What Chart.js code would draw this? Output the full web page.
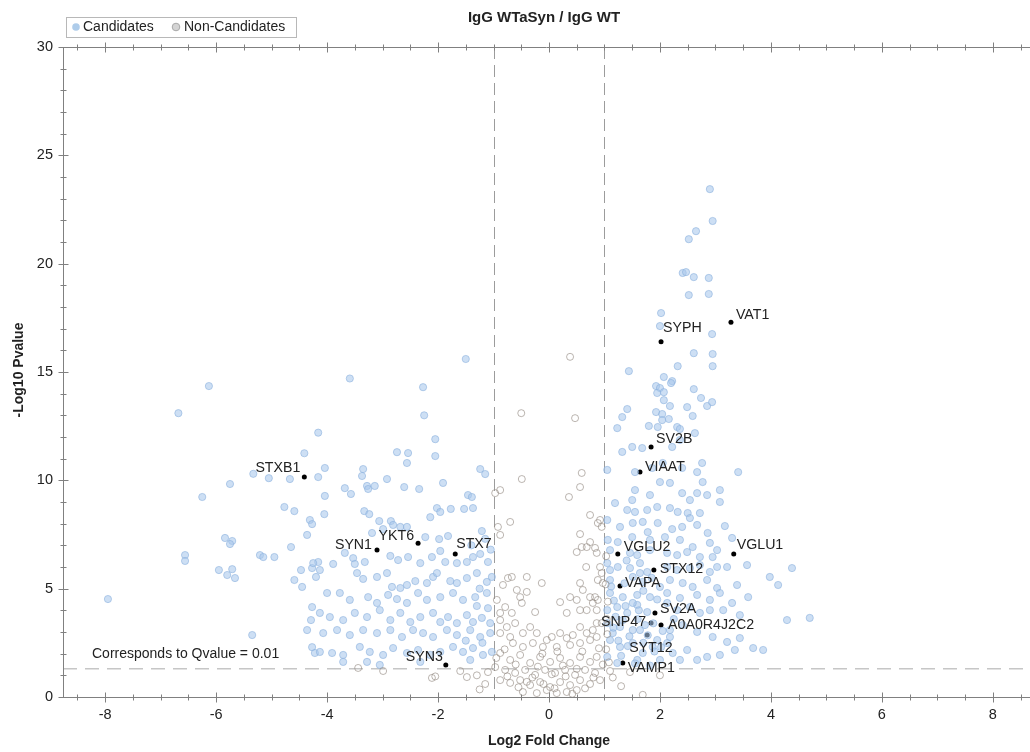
<!DOCTYPE html>
<html>
<head>
<meta charset="utf-8">
<script src="https://cdn.jsdelivr.net/npm/chart.js@4/dist/chart.umd.min.js"></script>
<style>
  html, body { margin: 0; background: #fff; }
  canvas { display: block; }
</style>
</head>
<body>
<canvas id="volcano" width="1030" height="752"></canvas>
<script>
const chartTitle = 'IgG WTaSyn / IgG WT';
const xTitle = 'Log2 Fold Change';
const yTitle = '-Log10 Pvalue';
const qLabel = 'Corresponds to Qvalue = 0.01';
const xTicks = [-8, -6, -4, -2, 0, 2, 4, 6, 8];
const yTicks = [0, 5, 10, 15, 20, 25, 30];
const foldCut = [-1, 1];
const qCut = 1.3;

// [log2 fold change, -log10 p]
const candidatesLeft = [
  [-6.13,14.35],[-6.68,13.1],[-4.16,12.2],[-4.41,11.25],[-5.33,10.3],[-5.05,10.1],[-4.67,10.06],[-4.16,10.15],
  [-5.75,9.83],[-6.25,9.23],[-4.77,8.77],[-4.59,8.58],[-4.31,8.17],[-4.27,7.98],[-4.36,7.48],[-5.84,7.34],
  [-5.71,7.2],[-5.75,7.06],[-4.65,6.92],[-6.56,6.55],[-6.56,6.28],[-5.21,6.55],[-5.15,6.46],[-4.95,6.46],
  [-4.16,6.23],[-5.95,5.86],[-5.71,5.9],[-5.8,5.63],[-5.66,5.49],[-4.47,5.86],[-4.27,5.95],[-4.2,5.54],
  [-4.59,5.4],[-7.95,4.52],[-4.27,4.15],[-4.29,3.55],[-5.35,2.86],[-4.27,2.3],[-4.22,2.03],
  [-1.5,15.6],[-3.59,14.7],[-2.27,14.3],[-2.25,13.0],[-2.05,11.9],[-2.74,11.3],[-2.54,11.26],[-2.56,10.8],
  [-2.05,11.12],[-4.04,10.57],[-3.35,10.52],[-3.37,10.2],[-3.68,9.64],[-3.57,9.37],[-3.28,9.74],[-3.26,9.6],
  [-3.14,9.74],[-2.92,10.06],[-2.61,9.69],[-2.34,9.6],[-1.91,9.88],[-1.24,10.52],[-1.15,10.29],[-4.04,9.28],
  [-1.46,9.32],[-1.39,9.23],[-4.05,8.44],[-3.33,8.58],[-3.24,8.44],[-3.06,8.12],[-2.85,8.12],[-2.14,8.3],
  [-2.02,8.72],[-1.96,8.54],[-1.77,8.68],[-1.53,8.68],[-1.37,8.72],[-3.19,7.57],[-2.99,7.75],[-2.81,7.94],
  [-2.68,7.85],[-2.56,7.85],[-2.23,7.38],[-1.98,7.29],[-1.82,7.43],[-1.21,7.66],[-3.68,6.65],[-3.53,6.41],
  [-3.5,6.14],[-3.32,6.23],[-2.86,6.51],[-2.72,6.32],[-2.54,6.46],[-2.32,6.18],[-2.11,6.46],[-1.96,6.74],
  [-1.87,6.23],[-1.66,6.18],[-1.48,6.23],[-1.37,6.46],[-1.24,6.6],[-1.1,6.23],[-4.25,6.18],[-4.13,5.86],
  [-3.89,6.14],[-3.46,5.72],[-3.35,5.45],[-3.1,5.54],[-2.92,5.72],[-2.83,5.08],[-2.68,5.03],[-2.56,5.17],
  [-2.41,5.35],[-2.2,5.26],[-2.09,5.54],[-2.02,5.72],[-1.78,5.35],[-1.66,5.26],[-1.48,5.49],[-1.3,5.72],
  [-1.12,5.31],[-1.03,5.54],[-3.77,4.8],[-3.59,4.48],[-3.26,4.61],[-3.1,4.34],[-2.9,4.71],[-2.74,4.52],
  [-2.56,4.34],[-2.36,4.8],[-2.2,4.48],[-1.96,4.61],[-1.73,4.8],[-1.55,4.48],[-1.33,4.61],[-1.12,4.8],
  [-4.0,4.8],[-4.45,5.08],[-4.13,3.88],[-3.95,3.69],[-3.71,3.55],[-3.5,3.88],[-3.28,3.69],[-3.05,4.01],
  [-2.86,3.55],[-2.68,3.88],[-2.5,3.46],[-2.32,3.69],[-2.09,3.88],[-1.96,3.46],[-1.82,3.69],[-1.66,3.41],
  [-1.48,3.78],[-1.37,3.46],[-1.21,3.65],[-1.06,3.41],[-4.36,3.09],[-4.07,2.95],[-3.82,3.09],[-3.59,2.86],
  [-3.35,3.09],[-3.1,2.95],[-2.86,3.09],[-2.65,2.77],[-2.45,3.09],[-2.27,2.95],[-2.09,2.77],[-1.84,3.09],
  [-1.66,2.86],[-1.42,3.09],[-1.24,2.77],[-1.06,2.95],[-4.13,2.08],[-3.91,2.03],[-3.71,1.94],[-3.41,2.31],
  [-3.23,2.08],[-2.99,1.94],[-2.81,2.26],[-2.56,2.03],[-2.36,2.17],[-2.14,1.94],[-1.96,2.08],[-1.73,2.31],
  [-1.55,2.08],[-1.37,2.26],[-1.19,1.94],[-1.03,2.08],[-3.28,1.62],[-3.05,1.48],[-2.32,1.62],[-1.42,1.71],
  [-3.71,1.62],[-1.1,4.1],[-1.2,2.5],[-1.3,4.2],[-1.05,6.8],[-1.15,7.3],[-1.4,7.0],[-1.25,5.0],[-1.5,2.6]
];

const candidatesRight = [
  [2.9,23.44],[2.95,21.97],[2.65,21.5],[2.52,21.13],[2.41,19.57],[2.47,19.61],[2.61,19.38],[2.88,19.34],
  [2.52,18.55],[2.88,18.6],[2.02,17.72],[2.0,17.12],[2.94,16.75],[2.61,15.87],[2.95,15.83],[2.95,15.27],
  [2.32,15.27],[1.44,15.04],[2.07,14.77],[2.22,14.58],[2.2,14.49],[1.93,14.35],[2.0,14.26],[2.07,14.07],
  [1.95,14.03],[2.61,14.21],[2.07,13.7],[2.74,13.8],[2.85,13.43],[2.94,13.61],[2.18,13.43],[2.49,13.38],
  [1.41,13.29],[1.32,12.92],[1.93,13.15],[2.04,13.06],[2.59,12.97],[1.23,12.41],[1.8,12.51],[1.96,12.46],
  [2.31,12.46],[2.36,12.37],[2.04,12.78],[2.16,12.83],[2.63,12.18],[1.5,11.54],[1.68,11.49],[2.22,11.54],
  [2.36,11.86],[1.32,11.31],[1.05,10.48],[1.55,10.38],[1.86,10.57],[2.05,10.8],[2.4,10.57],[2.67,10.38],
  [2.76,10.8],[3.41,10.38],[2.0,9.92],[2.18,9.88],[2.77,9.92],[1.55,9.55],[1.5,9.09],[1.82,9.32],
  [2.4,9.41],[2.54,9.09],[2.67,9.41],[2.85,9.32],[3.08,9.55],[3.08,9.0],[1.19,8.95],[1.41,8.63],
  [1.55,8.54],[1.77,8.63],[1.95,8.77],[2.18,8.72],[2.32,8.54],[2.5,8.49],[2.54,8.26],[2.72,8.49],
  [1.05,8.17],[1.28,7.85],[1.51,8.03],[1.69,8.08],[1.78,7.61],[1.96,8.03],[2.22,7.75],[2.4,7.85],
  [2.67,7.94],[2.86,7.57],[3.17,7.89],[1.06,7.25],[1.24,7.15],[1.5,7.38],[1.82,7.25],[2.09,7.38],
  [2.36,7.25],[2.59,6.92],[2.9,7.11],[3.3,7.34],[1.1,6.78],[1.46,6.65],[1.59,6.55],[1.82,6.78],
  [2.13,6.65],[2.31,6.55],[2.49,6.69],[2.72,6.46],[3.03,6.78],[2.95,6.46],[1.05,6.18],[1.24,6.0],
  [1.46,5.95],[1.64,6.18],[1.77,5.77],[2.13,6.0],[2.31,5.86],[2.54,5.95],[2.72,6.09],[2.9,5.77],
  [3.03,6.0],[3.21,6.0],[3.57,6.09],[4.38,5.95],[3.98,5.54],[4.13,5.17],[1.1,5.4],[1.51,5.54],
  [1.69,5.31],[2.0,5.08],[2.18,5.4],[2.41,5.26],[2.59,5.08],[2.85,5.4],[3.03,5.03],[3.39,5.17],
  [3.59,4.61],[1.1,4.8],[1.33,4.61],[1.59,4.71],[1.82,4.61],[2.13,4.8],[2.36,4.57],[2.67,4.71],
  [2.9,4.48],[3.08,4.8],[3.3,4.34],[1.05,4.01],[1.23,4.15],[1.41,3.88],[1.59,4.25],[1.77,3.92],
  [2.13,4.34],[2.31,4.01],[2.54,4.15],[2.72,3.88],[2.9,4.01],[3.14,4.01],[3.44,3.78],[4.29,3.55],
  [4.7,3.65],[1.05,3.41],[1.28,3.23],[1.51,3.09],[1.73,3.32],[2.18,3.09],[2.41,3.32],[2.67,3.0],
  [2.95,2.77],[3.21,2.54],[3.44,2.72],[3.68,2.26],[3.86,2.17],[3.35,2.17],[1.1,2.63],[1.28,2.31],
  [1.51,2.49],[1.69,2.03],[1.87,2.31],[2.13,2.49],[2.23,2.03],[2.49,2.17],[2.67,1.71],[2.85,1.85],
  [3.08,1.94],[2.36,1.71],[1.05,1.85],[1.23,1.57],[1.59,1.71],[2.0,1.71],[1.82,1.45],[1.1,5.86],
  [1.64,5.72],[1.51,4.34],[1.33,3.55],[1.64,3.09],[1.15,2.95],[1.95,2.63],[2.18,2.77],[1.38,4.2],
  [1.2,3.7],[1.45,2.8],[1.7,2.5],[1.9,2.1],[1.3,1.9],[1.55,1.55],[2.05,3.05],[1.12,5.1],
  [1.4,6.3],[1.7,4.9],[1.95,4.5],[1.25,2.6],[1.6,3.6],[1.85,5.5],[2.25,3.6],
  [1.17,4.45],[1.36,5.25],[1.62,4.0],[1.88,3.4],[1.16,3.2],[1.42,2.35],[1.78,2.85],[2.02,2.3]
];

const nonCandidates = [
  [-0.5,13.1],[0.47,12.87],[0.38,15.7],[-0.49,10.06],[0.59,10.34],[0.56,9.69],[0.36,9.23],[-0.97,9.41],
  [-0.88,9.55],[-0.7,8.08],[-0.92,7.85],[-0.88,7.48],[0.74,8.4],[0.88,8.03],[0.95,7.85],[0.92,8.17],
  [0.56,7.52],[0.5,6.69],[0.68,6.92],[0.74,7.15],[0.83,6.88],[0.86,6.65],[0.59,6.92],[0.67,6.0],
  [0.92,6.0],[0.95,5.72],[0.88,5.4],[0.97,5.26],[-0.67,5.54],[-0.74,5.49],[-0.83,5.17],[-0.4,5.54],
  [-0.13,5.26],[-0.58,4.94],[-0.52,4.61],[-0.4,4.85],[-0.49,4.34],[-0.79,4.15],[-0.94,4.48],[-0.88,3.88],
  [-0.67,3.88],[-0.25,3.92],[0.2,4.38],[0.38,4.61],[0.5,4.48],[0.56,5.26],[0.61,4.94],[0.74,4.61],
  [0.68,4.01],[0.79,4.34],[0.86,4.01],[0.83,4.61],[0.88,4.48],[0.56,4.01],[0.32,3.88],[-0.88,3.55],
  [-0.76,3.23],[-0.61,3.41],[-0.47,2.95],[-0.7,2.77],[-0.34,3.23],[-0.22,2.95],[-0.04,2.63],[0.05,2.77],
  [0.2,2.95],[0.32,2.72],[0.43,2.86],[0.56,3.23],[0.68,2.95],[0.79,3.09],[0.86,3.41],[-0.88,2.95],
  [-0.65,2.49],[-0.47,2.31],[-0.29,2.49],[-0.11,2.31],[0.14,2.31],[0.38,2.4],[0.56,2.49],[0.74,2.63],
  [0.86,2.77],[0.95,3.41],[-0.88,2.03],[-0.7,1.71],[-0.52,1.94],[-0.34,1.57],[-0.16,1.85],[0.02,1.62],
  [0.2,1.8],[0.38,1.57],[0.56,1.85],[0.74,1.62],[0.86,1.85],[-0.97,1.38],[-0.79,1.25],[-0.61,1.11],
  [-0.43,1.25],[-0.25,1.02],[-0.07,1.25],[0.11,1.11],[0.29,1.25],[0.47,1.02],[0.65,1.25],[0.83,1.11],
  [-0.88,0.78],[-0.7,0.65],[-0.52,0.78],[-0.34,0.55],[-0.16,0.69],[0.02,0.46],[0.2,0.69],[0.38,0.55],
  [0.56,0.78],[0.74,0.6],[0.92,0.78],[-0.47,0.23],[-0.22,0.18],[-0.04,0.32],[0.14,0.18],[0.32,0.23],
  [0.5,0.32],[-0.3,0.9],[0.3,0.95],[-0.1,0.6],[0.1,0.4],[0.42,0.15],[-0.55,0.45],[0.65,0.4],
  [-0.75,0.95],[0.8,0.9],[-0.2,1.4],[0.25,1.45],[0.5,1.3],[-0.6,1.5],[0.05,1.05],[-0.4,0.7],
  [0.6,2.1],[-0.8,2.2],[0.9,2.25],[-0.95,1.8],[0.97,1.5],[-0.12,2.0],[0.15,2.1],
  [1.03,2.2],[1.05,2.9],[1.04,3.6],[1.06,4.4],[1.02,5.2],[1.08,1.6],[1.03,6.5],
  [-3.44,1.34],[-2.99,1.2],[-2.11,0.88],[-2.05,0.95],[-1.6,1.2],[-1.48,0.92],[-1.3,1.0],[-1.15,0.6],
  [-1.1,1.15],[-1.25,0.35],[1.46,1.15],[1.69,0.1],[1.15,0.9],[1.3,0.5],[1.1,1.2],[2.0,1.0]
];

const geneNames = ['STXB1','SYN1','YKT6','STX7','SYN3','SYPH','VAT1','SV2B','VIAAT','VGLU2','VGLU1','STX12','VAPA','SV2A','SNP47','A0A0R4J2C2','SYT12','VAMP1'];
const geneX = [-4.41,-3.10,-2.36,-1.69,-1.86,2.02,3.28,1.84,1.64,1.24,3.33,1.89,1.28,1.91,1.84,2.02,1.77,1.33];
const geneY = [10.15,6.78,7.10,6.60,1.48,16.40,17.30,11.54,10.38,6.60,6.60,5.86,5.12,3.88,3.41,3.32,2.86,1.57];

// label placement: [textAlign, dx, dy] relative to the point
const labelPlace = {
  STXB1: ['right', -4, -9], SYN1: ['right', -5, -5], YKT6: ['right', -4, -7], STX7: ['left', 1, -10],
  SYN3: ['right', -3, -8], SYPH: ['left', 2, -14], VAT1: ['left', 5, -7], SV2B: ['left', 5, -8],
  VIAAT: ['left', 5, -5], VGLU2: ['left', 6, -7], VGLU1: ['left', 3, -9], STX12: ['left', 6, -1],
  VAPA: ['left', 5, -3], SV2A: ['left', 5, -4], SNP47: ['right', -5, -1], A0A0R4J2C2: ['left', 7, 0],
  SYT12: ['left', -18, 13], VAMP1: ['left', 5, 5]
};

const FONT = '"Liberation Sans", Arial, Helvetica, sans-serif';
const toPts = arr => arr.map(p => ({ x: p[0], y: p[1] }));

const decor = {
  id: 'decor',
  beforeDatasetsDraw(chart) {
    const { ctx, chartArea: a, scales: { x, y } } = chart;
    ctx.save();
    ctx.strokeStyle = '#9c9c9c';
    ctx.lineWidth = 1;
    ctx.setLineDash([12, 6]);
    foldCut.forEach(v => {
      const px = Math.round(x.getPixelForValue(v)) + 0.5;
      ctx.beginPath(); ctx.moveTo(px, a.top); ctx.lineTo(px, a.bottom); ctx.stroke();
    });
    ctx.strokeStyle = '#c6c6c6';
    ctx.lineWidth = 1.5;
    ctx.setLineDash([14, 8]);
    const py = y.getPixelForValue(qCut);
    ctx.beginPath(); ctx.moveTo(a.left, py); ctx.lineTo(chart.width, py); ctx.stroke();
    ctx.setLineDash([]);
    ctx.fillStyle = '#222';
    ctx.font = '14px ' + FONT;
    ctx.textAlign = 'left';
    ctx.textBaseline = 'middle';
    ctx.fillText(qLabel, a.left + 29, py - 15);
    ctx.restore();
  },
  afterDatasetsDraw(chart) {
    const { ctx, scales: { x, y } } = chart;
    ctx.save();
    ctx.fillStyle = '#222';
    ctx.font = '14.2px ' + FONT;
    ctx.textBaseline = 'middle';
    geneNames.forEach((name, i) => {
      const [align, dx, dy] = labelPlace[name];
      ctx.textAlign = align;
      ctx.fillText(name, x.getPixelForValue(geneX[i]) + dx, y.getPixelForValue(geneY[i]) + dy);
    });
    ctx.restore();
  },
  afterDraw(chart) {
    const { ctx, chartArea: a, scales: { x, y } } = chart;
    const line = (x1, y1, x2, y2) => { ctx.beginPath(); ctx.moveTo(x1, y1); ctx.lineTo(x2, y2); ctx.stroke(); };
    ctx.save();
    ctx.strokeStyle = '#808080';
    ctx.lineWidth = 1;
    const L = a.left + 0.5, T = a.top + 0.5, B = a.bottom + 0.5;
    line(L, a.top, L, a.bottom + 1);
    line(a.left, B, chart.width, B);
    line(a.left, T, chart.width, T);
    for (let i = -17; i <= 17; i++) {
      const v = i / 2;
      const len = (i % 4 === 0) ? 5 : 3;
      const px = Math.round(x.getPixelForValue(v)) + 0.5;
      line(px, B - len, px, B + len);
      line(px, T - len, px, T + len);
    }
    for (let v = 0; v <= 30; v++) {
      const len = (v % 5 === 0) ? 5 : 3;
      const py = Math.round(y.getPixelForValue(v)) + 0.5;
      line(L - len, py, L + len, py);
    }
    ctx.fillStyle = '#222';
    ctx.font = '14.5px ' + FONT;
    ctx.textAlign = 'center';
    ctx.textBaseline = 'middle';
    xTicks.forEach(v => ctx.fillText(String(v), x.getPixelForValue(v), a.bottom + 18));
    ctx.textAlign = 'right';
    yTicks.forEach(v => ctx.fillText(String(v), a.left - 10, y.getPixelForValue(v)));

    ctx.font = 'bold 14px ' + FONT;
    ctx.textAlign = 'center';
    ctx.fillText(xTitle, x.getPixelForValue(0), a.bottom + 44);
    ctx.save();
    ctx.translate(19, (a.top + a.bottom) / 2 - 2);
    ctx.rotate(-Math.PI / 2);
    ctx.fillText(yTitle, 0, 0);
    ctx.restore();
    ctx.font = 'bold 15px ' + FONT;
    ctx.fillText(chartTitle, 544, 18);

    // legend
    ctx.fillStyle = '#fff';
    ctx.fillRect(66, 17, 230, 20);
    ctx.strokeStyle = '#b8b8b8';
    ctx.strokeRect(66.5, 17.5, 230, 20);
    ctx.beginPath(); ctx.arc(76, 27, 3.8, 0, Math.PI * 2);
    ctx.fillStyle = 'rgba(160,195,230,0.85)'; ctx.fill();
    ctx.beginPath(); ctx.arc(176, 27, 3.8, 0, Math.PI * 2);
    ctx.fillStyle = '#d4d4d4'; ctx.fill();
    ctx.strokeStyle = '#a8a8a8'; ctx.stroke();
    ctx.fillStyle = '#222';
    ctx.font = '14px ' + FONT;
    ctx.textAlign = 'left';
    ctx.fillText('Candidates', 83, 27.5);
    ctx.fillText('Non-Candidates', 184, 27.5);
    ctx.restore();
  }
};

new Chart(document.getElementById('volcano'), {
  type: 'scatter',
  data: {
    datasets: [
      {
        label: 'Non-Candidates',
        data: toPts(nonCandidates),
        pointRadius: 3.5,
        backgroundColor: 'rgba(255,255,255,0)',
        borderColor: 'rgba(150,142,134,0.65)',
        borderWidth: 1
      },
      {
        label: 'Candidates',
        data: toPts(candidatesLeft.concat(candidatesRight)),
        pointRadius: 3.6,
        backgroundColor: 'rgba(168,200,236,0.58)',
        borderColor: 'rgba(138,176,220,0.58)',
        borderWidth: 1
      },
      {
        label: 'Highlighted',
        data: geneX.map((v, i) => ({ x: v, y: geneY[i] })),
        pointRadius: 2.5,
        backgroundColor: '#000',
        borderColor: '#000',
        borderWidth: 0
      }
    ]
  },
  options: {
    responsive: false,
    animation: false,
    events: [],
    layout: { padding: { left: 63, top: 47, right: 0, bottom: 55 } },
    plugins: { legend: { display: false }, tooltip: { enabled: false }, title: { display: false } },
    scales: {
      x: { type: 'linear', min: -8.76, max: 8.58, display: false },
      y: { type: 'linear', min: 0, max: 30, display: false }
    }
  },
  plugins: [decor]
});
</script>
</body>
</html>
